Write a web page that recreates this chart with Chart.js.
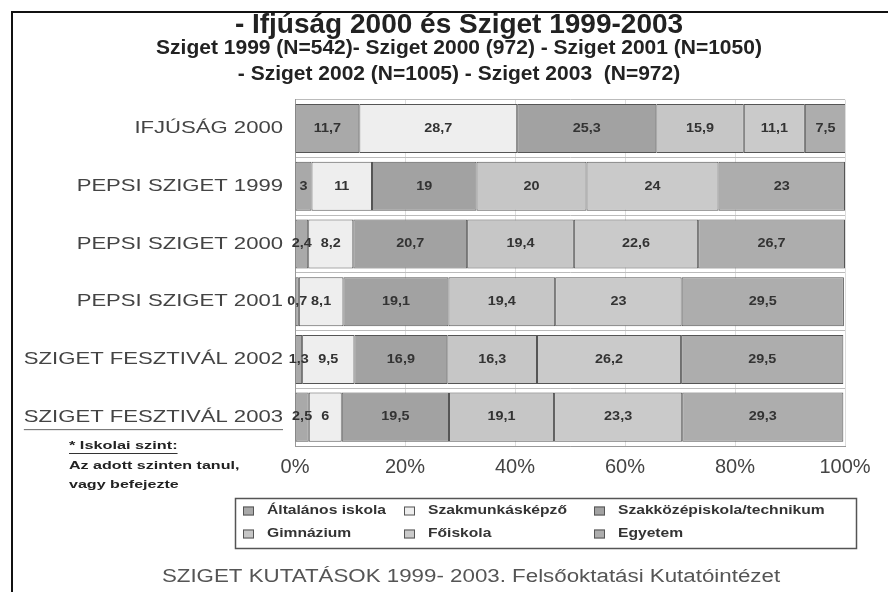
<!DOCTYPE html>
<html>
<head>
<meta charset="utf-8">
<script src="https://cdn.jsdelivr.net/npm/chart.js@4.4.1/dist/chart.umd.min.js"></script>
<style>
  html, body { margin: 0; padding: 0; background: #fff; }
  #wrap { width: 888px; height: 592px; position: relative; }
</style>
</head>
<body>
<div id="wrap"><canvas id="chart"></canvas></div>
<script>
// --- data ---
const categories = ['IFJÚSÁG 2000', 'PEPSI SZIGET 1999', 'PEPSI SZIGET 2000', 'PEPSI SZIGET 2001', 'SZIGET FESZTIVÁL 2002', 'SZIGET FESZTIVÁL 2003'];
const seriesNames = ['Általános iskola', 'Szakmunkásképző', 'Szakközépiskola/technikum', 'Gimnázium', 'Főiskola', 'Egyetem'];
const altalanos  = [11.7, 3, 2.4, 0.7, 1.3, 2.5];
const szakmunkas = [28.7, 11, 8.2, 8.1, 9.5, 6];
const szakkozep  = [25.3, 19, 20.7, 19.1, 16.9, 19.5];
const gimnazium  = [15.9, 20, 19.4, 19.4, 16.3, 19.1];
const foiskola   = [11.1, 24, 22.6, 23, 26.2, 23.3];
const egyetem    = [7.5, 23, 26.7, 29.5, 29.5, 29.3];
const xTicks = [0, 20, 40, 60, 80, 100];

const seriesColors = ['#a9a9a9', '#eeeeee', '#a2a2a2', '#c6c6c6', '#cacaca', '#adadad'];
const FONT = '"Liberation Sans", Arial, sans-serif';

const titleText = '- Ifjúság 2000 és Sziget 1999-2003';
const subtitleLines = ['Sziget 1999 (N=542)- Sziget 2000 (972) - Sziget 2001 (N=1050)', '- Sziget 2002 (N=1005) - Sziget 2003  (N=972)'];
const noteLines = ['* Iskolai szint:', 'Az adott szinten tanul,', 'vagy befejezte'];
const footerText = 'SZIGET KUTATÁSOK 1999- 2003. Felsőoktatási Kutatóintézet';

// text drawn a bit wider than the font, like the original picture
function wideText(ctx, text, x, y, font, color, sx, align) {
  ctx.save();
  ctx.font = font;
  ctx.fillStyle = color;
  ctx.textBaseline = 'middle';
  ctx.textAlign = 'left';
  const w = ctx.measureText(text).width * sx;
  const left = align === 'right' ? x - w : (align === 'center' ? x - w / 2 : x);
  ctx.translate(left, y);
  ctx.scale(sx, 1);
  ctx.fillText(text, 0, 0);
  ctx.restore();
  return { left: left, width: w };
}

const framePlugin = {
  id: 'frame',
  beforeDraw(chart) {
    const ctx = chart.ctx;
    ctx.save();
    ctx.fillStyle = '#fff';
    ctx.fillRect(0, 0, chart.width, chart.height);
    ctx.strokeStyle = '#111';
    ctx.lineWidth = 2;
    ctx.beginPath();
    ctx.moveTo(12, chart.height);
    ctx.lineTo(12, 12);
    ctx.lineTo(chart.width, 12);
    ctx.stroke();
    ctx.restore();
  }
};

const barLabelPlugin = {
  id: 'barLabels',
  afterDatasetsDraw(chart) {
    const ctx = chart.ctx;
    chart.data.datasets.forEach((ds, di) => {
      const meta = chart.getDatasetMeta(di);
      meta.data.forEach((bar, i) => {
        const v = ds.data[i];
        const cx = (bar.x + bar.base) / 2;
        wideText(ctx, String(v).replace('.', ','), cx, bar.y, 'bold 12px ' + FONT, '#333', 1.2, 'center');
      });
    });
  }
};

const sideTextPlugin = {
  id: 'sideText',
  afterDraw(chart) {
    const ctx = chart.ctx;
    const yScale = chart.scales.y;
    categories.forEach((c, i) => {
      const y = yScale.getPixelForValue(i);
      const r = wideText(ctx, c, 283, y, '17px ' + FONT, '#444', 1.3, 'right');
      if (i === categories.length - 1) {
        ctx.save();
        ctx.strokeStyle = '#666';
        ctx.lineWidth = 1;
        ctx.beginPath();
        ctx.moveTo(r.left, y + 12.5);
        ctx.lineTo(r.left + r.width, y + 12.5);
        ctx.stroke();
        ctx.restore();
      }
    });

    // note under the category labels
    const n0 = wideText(ctx, noteLines[0], 69, 446, 'bold 11px ' + FONT, '#222', 1.48, 'left');
    ctx.save();
    ctx.strokeStyle = '#333';
    ctx.lineWidth = 1;
    ctx.beginPath();
    ctx.moveTo(n0.left, 453.5);
    ctx.lineTo(n0.left + n0.width, 453.5);
    ctx.stroke();
    ctx.restore();
    wideText(ctx, noteLines[1], 69, 466, 'bold 11px ' + FONT, '#222', 1.46, 'left');
    wideText(ctx, noteLines[2], 69, 485, 'bold 11px ' + FONT, '#222', 1.46, 'left');

    // legend box, three columns
    ctx.save();
    ctx.strokeStyle = '#555';
    ctx.lineWidth = 1.5;
    ctx.strokeRect(235.5, 498.5, 621, 50);
    ctx.restore();
    const colX = [243, 404, 594];
    const rowY = [511, 534];
    chart.data.datasets.forEach((ds, di) => {
      const bx = colX[di % 3];
      const by = rowY[Math.floor(di / 3)];
      ctx.save();
      ctx.fillStyle = ds.backgroundColor;
      ctx.strokeStyle = '#555';
      ctx.lineWidth = 1;
      ctx.fillRect(bx, by - 4.5, 11, 9);
      ctx.strokeRect(bx + 0.5, by - 4, 10, 8);
      ctx.restore();
      wideText(ctx, ds.label, bx + 24, by, 'bold 12.5px ' + FONT, '#333', 1.25, 'left');
    });

    // footer
    wideText(ctx, footerText, 471, 577, '18px ' + FONT, '#555', 1.24, 'center');
  }
};

const series = [altalanos, szakmunkas, szakkozep, gimnazium, foiskola, egyetem];
const datasets = series.map((vals, i) => ({
  label: seriesNames[i],
  data: vals,
  backgroundColor: seriesColors[i],
  borderColor: '#555',
  borderWidth: 1,
  borderSkipped: false,
  barPercentage: 0.85,
  categoryPercentage: 1.0
}));

new Chart(document.getElementById('chart'), {
  type: 'bar',
  data: { labels: categories, datasets: datasets },
  options: {
    indexAxis: 'y',
    responsive: true,
    maintainAspectRatio: false,
    devicePixelRatio: 1,
    animation: false,
    layout: { padding: { top: 0, left: 73, right: 43, bottom: 104 } },
    plugins: {
      legend: { display: false },
      tooltip: { enabled: false },
      title: {
        display: true,
        text: titleText,
        color: '#222',
        font: { family: FONT, size: 28, weight: 'bold', lineHeight: 0.74 },
        padding: { top: 14.5, bottom: 0 }
      },
      subtitle: {
        display: true,
        text: subtitleLines,
        color: '#222',
        font: { family: FONT, size: 21, weight: 'bold', lineHeight: 1.25 },
        padding: { top: 0, bottom: 12 }
      }
    },
    scales: {
      x: {
        stacked: true,
        min: 0,
        max: 100,
        afterBuildTicks: (scale) => { scale.ticks = xTicks.map(v => ({ value: v })); },
        ticks: {
          callback: (v) => v + '%',
          color: '#444',
          font: { family: FONT, size: 20 },
          padding: 9,
          maxRotation: 0
        },
        grid: { color: '#dddddd', drawTicks: false },
        border: { color: '#999' }
      },
      y: {
        stacked: true,
        ticks: { display: false },
        grid: { color: '#bbbbbb', drawTicks: false },
        border: { color: '#999' },
        afterFit: (scale) => { scale.width = 222; }
      }
    }
  },
  plugins: [framePlugin, barLabelPlugin, sideTextPlugin]
});
</script>
</body>
</html>
